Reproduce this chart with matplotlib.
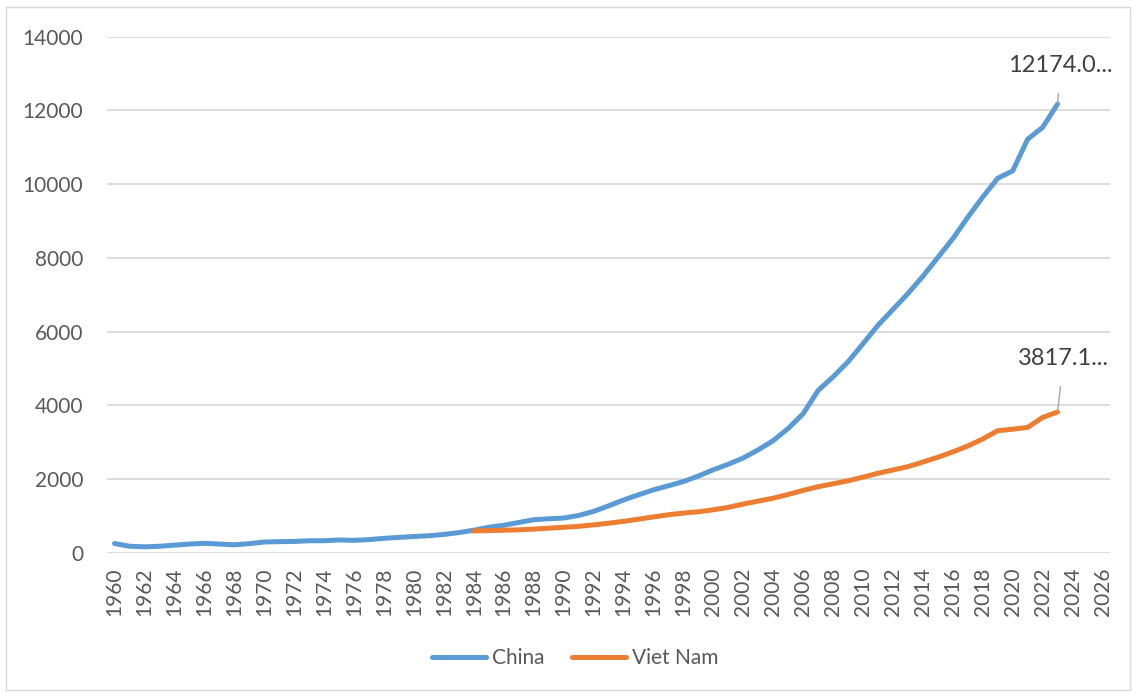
import matplotlib
matplotlib.use("Agg")
import matplotlib.pyplot as plt
from matplotlib.patches import Rectangle

plt.rcParams['font.family'] = ['Lato', 'DejaVu Sans']

# GDP per capita
china_years = list(range(1960, 2024))
china = [250, 175, 160, 175, 205, 235, 255, 235, 215, 245,
         290, 300, 305, 325, 325, 345, 335, 355, 390, 415,
         440, 460, 495, 545, 610, 690, 745, 820, 895, 920,
         940, 1010, 1120, 1270, 1430, 1570, 1705, 1815, 1930, 2080,
         2250, 2400, 2570, 2790, 3040, 3370, 3770, 4400, 4770, 5180,
         5670, 6170, 6600, 7030, 7500, 8010, 8520, 9100, 9650, 10160,
         10360, 11220, 11540, 12174.0]

vn_years = list(range(1984, 2024))
viet_nam = [590, 600, 610, 620, 640, 665, 690, 715, 755, 800,
            850, 910, 970, 1030, 1075, 1110, 1165, 1230, 1320, 1400,
            1480, 1580, 1690, 1790, 1870, 1950, 2050, 2155, 2245, 2335,
            2460, 2590, 2735, 2895, 3085, 3310, 3350, 3400, 3670, 3817.1]

x_ticks = list(range(1960, 2027, 2))
y_ticks = list(range(0, 14001, 2000))

blue = '#5B9BD5'
orange = '#ED7D31'
txt = '#595959'
grid = '#D9D9D9'

fig = plt.figure(figsize=(11.32, 6.93), dpi=100)
ax = fig.add_axes([107 / 1132, 1 - 552.7 / 693, (1110 - 107) / 1132, (552.7 - 36.7) / 693])

ax.plot(china_years, china, color=blue, lw=3.6, solid_capstyle='round', label='China')
ax.plot(vn_years, viet_nam, color=orange, lw=3.6, solid_capstyle='round', label='Viet Nam')

ax.set_xlim(1959.5, 2026.5)
ax.set_ylim(0, 14000)
ax.set_xticks(x_ticks)
ax.set_xticklabels([str(t) for t in x_ticks], rotation=90)
ax.set_yticks(y_ticks)
ax.tick_params(axis='both', length=0, labelsize=15, labelcolor=txt)
ax.tick_params(axis='x', pad=11)
ax.tick_params(axis='y', pad=17)
ax.grid(axis='y', color=grid, lw=1.3)
ax.set_axisbelow(True)
for s in ax.spines.values():
    s.set_visible(False)

# end-point data labels with leader lines
ax.annotate('12174.0...', xy=(china_years[-1], china[-1]), xytext=(2023.2, 13230),
            ha='center', va='center', fontsize=17, color='#404040',
            arrowprops=dict(arrowstyle='-', color='#A6A6A6', lw=1, shrinkA=11, shrinkB=0))
ax.annotate('3817.1...', xy=(vn_years[-1], viet_nam[-1]), xytext=(2023.4, 5280),
            ha='center', va='center', fontsize=17, color='#404040',
            arrowprops=dict(arrowstyle='-', color='#A6A6A6', lw=1, shrinkA=11, shrinkB=0))

fig.legend(loc='center', bbox_to_anchor=(575 / 1132, 1 - 658 / 693), ncol=2, frameon=False,
           fontsize=15, labelcolor=txt, handlelength=2.6, handletextpad=0.3, columnspacing=1.3)

fig.patches.append(Rectangle((6 / 1132, 3 / 693), 1124 / 1132, 683 / 693, transform=fig.transFigure,
                             fill=False, edgecolor='#D9D9D9', lw=1))

fig.savefig('out.png', dpi=100)
